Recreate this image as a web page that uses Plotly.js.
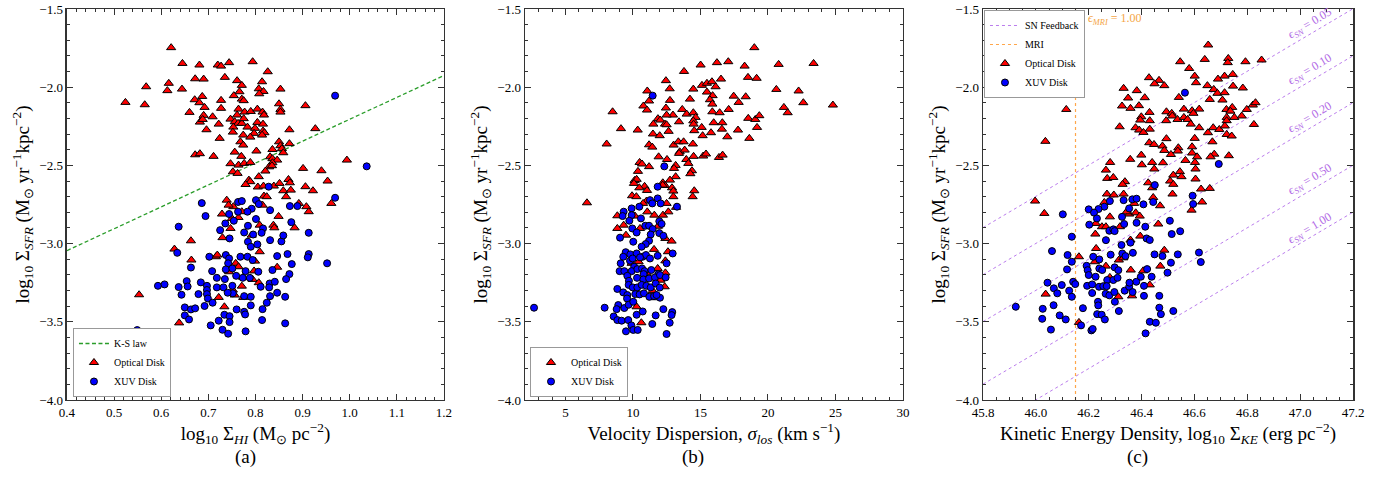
<!DOCTYPE html>
<html>
<head>
<meta charset="utf-8">
<script src="https://cdn.plot.ly/plotly-3.0.1.min.js"></script>
<style>html,body{margin:0;padding:0;background:#fff;}#chart{width:1390px;height:490px;}</style>
</head>
<body>
<div id="chart"></div>
<script>
// ---------------- DATA ----------------
// Panel (a): log10 Sigma_HI vs log10 Sigma_SFR
const a_opt_x = [0.621,0.645,0.681,0.720,0.727,0.744,0.794,0.826,0.568,0.616,0.613,0.644,0.672,0.690,0.735,0.761,0.771,0.766,0.754,0.771,0.775,0.814,0.807,0.817,0.808,0.853,0.524,0.565,0.671,0.687,0.681,0.692,0.727,0.727,0.660,0.690,0.709,0.682,0.688,0.722,0.696,0.724,0.764,0.761,0.747,0.756,0.763,0.771,0.775,0.777,0.790,0.804,0.815,0.818,0.804,0.816,0.783,0.753,0.752,0.799,0.797,0.774,0.789,0.816,0.819,0.814,0.850,0.853,0.853,0.906,0.872,0.927,0.768,0.774,0.802,0.756,0.770,0.850,0.853,0.856,0.859,0.872,0.836,0.672,0.682,0.711,0.831,0.836,0.846,0.836,0.829,0.835,0.747,0.764,0.776,0.789,0.752,0.762,0.821,0.901,0.940,0.994,0.807,0.786,0.789,0.779,0.870,0.873,0.953,0.805,0.817,0.839,0.851,0.859,0.875,0.906,0.922,0.739,0.753,0.818,0.824,0.865,0.908,0.961,0.743,0.815,0.892,0.913,0.729,0.750,0.764,0.771,0.809,0.838,0.840,0.849,0.883,0.747,0.730,0.792,0.663,0.628,0.809,0.664,0.716,0.719,0.758,0.764,0.799,0.744,0.797,0.846,0.774,0.794,0.807,0.722,0.756,0.771,0.774,0.553,0.734,0.638,0.752];
const a_opt_y = [-1.747,-1.848,-1.858,-1.858,-1.865,-1.843,-1.837,-1.901,-1.997,-1.975,-2.022,-2.012,-1.946,-1.948,-1.937,-1.958,-1.988,-2.029,-2.054,-2.076,-2.086,-1.965,-2.010,-2.027,-2.042,-2.012,-2.097,-2.112,-2.080,-2.059,-2.099,-2.129,-2.084,-2.135,-2.161,-2.180,-2.189,-2.223,-2.206,-2.236,-2.272,-2.327,-2.140,-2.178,-2.204,-2.221,-2.231,-2.231,-2.201,-2.159,-2.155,-2.140,-2.159,-2.178,-2.225,-2.236,-2.255,-2.255,-2.287,-2.263,-2.295,-2.306,-2.319,-2.280,-2.291,-2.306,-2.106,-2.142,-2.159,-2.118,-2.272,-2.265,-2.349,-2.370,-2.408,-2.415,-2.442,-2.349,-2.374,-2.393,-2.419,-2.361,-2.398,-2.432,-2.425,-2.442,-2.445,-2.457,-2.466,-2.483,-2.509,-2.502,-2.489,-2.498,-2.487,-2.481,-2.541,-2.551,-2.536,-2.519,-2.534,-2.466,-2.572,-2.594,-2.604,-2.622,-2.590,-2.611,-2.600,-2.638,-2.632,-2.632,-2.615,-2.662,-2.658,-2.636,-2.662,-2.722,-2.764,-2.696,-2.700,-2.700,-2.764,-2.743,-2.754,-2.754,-2.743,-2.796,-2.811,-2.839,-2.833,-2.796,-2.882,-2.882,-2.899,-2.826,-2.899,-2.903,-2.962,-2.946,-2.982,-3.035,-3.052,-3.105,-3.084,-3.073,-3.126,-3.148,-3.112,-3.180,-3.175,-3.151,-3.216,-3.229,-3.250,-3.344,-3.329,-3.272,-3.344,-3.327,-3.404,-3.507,-3.297];
const a_xuv_x = [0.969,1.036,0.828,0.686,0.763,0.771,0.801,0.807,0.792,0.831,0.873,0.889,0.969,0.694,0.744,0.763,0.783,0.754,0.784,0.801,0.816,0.813,0.637,0.736,0.725,0.745,0.776,0.795,0.784,0.790,0.804,0.831,0.855,0.859,0.876,0.913,0.634,0.702,0.737,0.744,0.742,0.768,0.783,0.794,0.846,0.868,0.913,0.911,0.952,0.877,0.663,0.708,0.737,0.751,0.779,0.806,0.836,0.872,0.718,0.735,0.759,0.773,0.788,0.811,0.830,0.841,0.865,0.593,0.607,0.637,0.654,0.656,0.684,0.697,0.697,0.718,0.732,0.751,0.752,0.741,0.829,0.846,0.643,0.679,0.697,0.699,0.709,0.776,0.790,0.831,0.863,0.824,0.692,0.650,0.663,0.672,0.650,0.659,0.760,0.790,0.815,0.776,0.778,0.734,0.745,0.722,0.745,0.814,0.863,0.705,0.730,0.742,0.779,0.549];
const a_xuv_y = [-2.054,-2.506,-2.636,-2.741,-2.734,-2.728,-2.722,-2.747,-2.777,-2.786,-2.760,-2.760,-2.707,-2.824,-2.811,-2.796,-2.796,-2.854,-2.886,-2.843,-2.903,-2.931,-2.892,-2.871,-2.914,-2.967,-2.929,-2.942,-2.988,-3.020,-3.005,-2.978,-2.986,-2.948,-2.863,-2.931,-3.059,-3.084,-3.073,-3.095,-3.126,-3.084,-3.084,-3.105,-3.080,-3.067,-3.067,-3.088,-3.126,-3.131,-3.153,-3.176,-3.165,-3.159,-3.176,-3.180,-3.169,-3.195,-3.219,-3.227,-3.206,-3.219,-3.219,-3.276,-3.255,-3.244,-3.227,-3.270,-3.261,-3.278,-3.240,-3.274,-3.248,-3.270,-3.297,-3.280,-3.280,-3.270,-3.318,-3.314,-3.280,-3.314,-3.327,-3.323,-3.323,-3.351,-3.378,-3.336,-3.340,-3.336,-3.340,-3.378,-3.399,-3.408,-3.421,-3.414,-3.459,-3.485,-3.421,-3.395,-3.419,-3.436,-3.453,-3.455,-3.464,-3.493,-3.502,-3.489,-3.510,-3.523,-3.551,-3.576,-3.561,-3.553];
const ks_x = [0.4, 1.2];
const ks_y = [-3.045, -1.925];

// Panel (b): velocity dispersion vs log10 Sigma_SFR
const b_opt_x = [18.99,15.01,16.22,17.06,18.27,20.79,23.38,13.78,12.44,18.52,19.16,16.52,15.11,15.48,15.85,16.12,14.47,12.72,11.06,15.48,15.90,15.70,15.88,17.46,18.35,17.83,20.62,22.27,22.62,24.81,21.18,21.46,14.22,12.74,11.19,10.77,11.04,8.49,12.44,13.65,13.98,14.47,14.64,15.88,16.42,17.09,18.54,19.06,19.36,19.19,12.96,12.49,13.41,11.85,12.02,11.51,12.37,12.49,14.47,14.49,15.98,16.62,15.09,14.54,15.16,15.78,16.59,16.99,17.78,18.62,12.64,11.48,11.98,9.11,10.35,8.05,11.19,11.43,13.01,13.36,13.75,14.44,13.46,13.83,13.41,11.90,12.52,13.95,14.10,14.49,15.20,15.41,16.37,16.64,10.49,10.67,11.19,13.16,13.04,10.37,14.37,14.25,13.16,12.74,10.12,10.27,10.07,10.86,10.47,11.04,12.21,12.37,12.20,12.89,12.99,14.54,14.42,9.93,10.25,11.00,12.49,12.99,6.59,10.75,8.84,9.31,8.84,9.48,10.15,10.52,11.06,11.58,12.22,12.62,11.85,12.40,12.86,11.56,12.59,12.40,10.42,9.90,11.83,12.40,11.01,12.02,12.35,11.46,11.43,10.27,10.62,13.19];
const b_opt_y = [-1.747,-1.858,-1.843,-1.837,-1.865,-1.854,-1.848,-1.899,-1.958,-1.937,-1.943,-1.948,-1.988,-1.975,-1.965,-1.997,-2.012,-2.010,-2.024,-2.031,-2.054,-2.080,-2.108,-2.057,-2.061,-2.097,-2.014,-2.024,-2.099,-2.114,-2.129,-2.163,-2.076,-2.084,-2.088,-2.120,-2.146,-2.157,-2.133,-2.142,-2.172,-2.163,-2.193,-2.157,-2.163,-2.142,-2.199,-2.206,-2.182,-2.257,-2.178,-2.178,-2.221,-2.201,-2.210,-2.236,-2.236,-2.240,-2.215,-2.236,-2.227,-2.227,-2.257,-2.278,-2.310,-2.291,-2.268,-2.317,-2.274,-2.327,-2.282,-2.299,-2.310,-2.265,-2.274,-2.363,-2.368,-2.383,-2.370,-2.349,-2.349,-2.363,-2.413,-2.402,-2.423,-2.445,-2.462,-2.462,-2.487,-2.442,-2.440,-2.427,-2.449,-2.434,-2.481,-2.491,-2.508,-2.500,-2.519,-2.538,-2.534,-2.553,-2.572,-2.594,-2.596,-2.589,-2.615,-2.634,-2.643,-2.660,-2.611,-2.628,-2.626,-2.643,-2.664,-2.662,-2.700,-2.694,-2.700,-2.728,-2.743,-2.700,-2.739,-2.743,-2.822,-2.882,-2.903,-2.946,-2.824,-2.903,-2.797,-2.818,-2.818,-2.797,-2.889,-2.967,-2.984,-3.037,-3.052,-3.110,-3.116,-3.126,-3.159,-3.187,-3.187,-3.234,-3.276,-3.301,-3.346,-3.404,-3.506,-2.768];
const b_xuv_x = [11.46,12.32,11.83,11.83,11.26,11.43,12.05,13.26,9.90,10.47,2.67,7.90,9.31,9.23,9.90,10.59,9.73,10.91,11.19,11.46,11.95,12.12,9.95,10.27,11.31,11.95,12.25,9.04,11.19,10.94,10.64,10.02,9.46,9.80,10.27,10.72,10.96,11.83,12.94,9.28,9.09,9.78,9.97,10.09,10.52,11.26,12.49,9.01,9.36,9.90,10.32,10.67,10.86,10.79,11.36,11.88,9.58,10.30,10.77,11.19,11.63,12.00,12.42,9.70,9.68,9.98,10.32,10.64,10.99,11.31,11.68,11.98,8.84,9.28,9.58,9.56,10.17,10.49,10.81,11.21,11.56,12.00,11.75,8.91,9.36,9.68,10.02,8.79,10.72,10.27,11.68,12.25,12.91,12.86,8.57,8.84,9.16,9.65,9.88,11.43,12.72,9.48,10.02,10.35,12.49];
const b_xuv_y = [-2.054,-2.506,-2.636,-2.711,-2.722,-2.743,-2.743,-2.764,-2.775,-2.764,-3.410,-3.410,-2.796,-2.824,-2.818,-2.839,-2.854,-2.886,-2.886,-2.907,-2.857,-2.874,-2.903,-2.929,-2.942,-2.933,-2.950,-2.962,-2.982,-3.003,-3.020,-2.988,-3.055,-3.069,-3.063,-3.084,-3.073,-3.078,-3.063,-3.084,-3.126,-3.110,-3.095,-3.148,-3.088,-3.095,-3.126,-3.176,-3.176,-3.176,-3.163,-3.159,-3.176,-3.195,-3.169,-3.195,-3.206,-3.219,-3.229,-3.223,-3.216,-3.201,-3.216,-3.238,-3.264,-3.280,-3.280,-3.264,-3.270,-3.280,-3.255,-3.281,-3.290,-3.312,-3.329,-3.351,-3.323,-3.325,-3.318,-3.340,-3.336,-3.346,-3.329,-3.393,-3.412,-3.391,-3.372,-3.419,-3.434,-3.455,-3.459,-3.419,-3.438,-3.457,-3.466,-3.489,-3.493,-3.489,-3.523,-3.514,-3.506,-3.561,-3.552,-3.552,-3.578];

// Panel (c): kinetic energy density vs log10 Sigma_SFR
const c_opt_x = [46.652,46.546,46.639,46.728,46.726,46.793,46.854,46.580,46.601,46.606,46.714,46.745,46.689,46.428,46.466,46.449,46.486,46.332,46.649,46.673,46.687,46.714,46.746,46.783,46.382,46.349,46.412,46.541,46.658,46.706,46.326,46.358,46.390,46.430,46.494,46.514,46.560,46.591,46.618,46.596,46.721,46.743,46.736,46.798,46.821,46.831,46.399,46.395,46.431,46.493,46.516,46.536,46.560,46.574,46.722,46.722,46.751,46.779,46.317,46.377,46.391,46.407,46.431,46.586,46.618,46.671,46.694,46.715,46.651,46.722,46.741,46.825,46.429,46.447,46.479,46.494,46.486,46.511,46.539,46.537,46.591,46.601,46.591,46.610,46.668,46.675,46.661,46.730,46.399,46.357,46.401,46.440,46.481,46.448,46.566,46.602,46.604,46.281,46.265,46.270,46.293,46.337,46.328,46.425,46.508,46.520,46.545,46.520,46.551,46.604,46.517,46.440,46.269,46.295,46.332,46.470,46.629,46.625,46.658,46.036,46.115,45.997,46.259,46.372,46.444,46.032,46.163,46.037,46.163,46.227,46.250,46.265,46.280,46.318,46.225,46.228,46.223,46.265,46.314,46.331,46.358,46.353,46.378,46.393,46.395,46.463,46.589,46.486,46.471,46.359,46.406,46.431,46.280,46.312,46.364,46.343];
const c_opt_y = [-1.730,-1.837,-1.822,-1.816,-1.843,-1.837,-1.826,-1.880,-1.929,-1.971,-1.929,-1.918,-1.948,-1.939,-1.956,-1.978,-1.990,-2.007,-1.990,-2.014,-2.039,-2.035,-1.993,-2.005,-2.022,-2.069,-2.067,-2.065,-2.078,-2.082,-2.120,-2.135,-2.118,-2.161,-2.157,-2.167,-2.140,-2.150,-2.140,-2.167,-2.142,-2.129,-2.153,-2.142,-2.114,-2.099,-2.189,-2.210,-2.214,-2.214,-2.184,-2.206,-2.193,-2.206,-2.193,-2.214,-2.193,-2.184,-2.253,-2.259,-2.274,-2.289,-2.268,-2.236,-2.259,-2.259,-2.270,-2.248,-2.291,-2.302,-2.312,-2.238,-2.355,-2.366,-2.376,-2.329,-2.404,-2.430,-2.387,-2.408,-2.381,-2.327,-2.421,-2.445,-2.349,-2.428,-2.445,-2.438,-2.434,-2.461,-2.496,-2.481,-2.483,-2.523,-2.468,-2.481,-2.523,-2.481,-2.530,-2.583,-2.577,-2.604,-2.621,-2.611,-2.600,-2.562,-2.540,-2.621,-2.572,-2.587,-2.683,-2.643,-2.683,-2.689,-2.683,-2.758,-2.734,-2.651,-2.647,-2.346,-2.142,-2.728,-2.737,-2.743,-2.705,-2.807,-3.084,-3.323,-3.504,-2.871,-2.892,-2.892,-2.829,-2.892,-2.939,-3.031,-3.116,-3.144,-3.105,-3.091,-2.977,-2.811,-2.803,-2.824,-2.952,-2.875,-2.786,-3.042,-3.144,-3.169,-3.174,-3.264,-3.216,-3.340,-3.334,-2.797];
const c_xuv_x = [46.564,46.692,46.450,46.593,46.595,46.280,46.332,46.365,46.381,46.407,46.444,46.259,46.200,46.237,46.353,46.102,46.136,46.061,46.120,46.136,46.118,46.044,46.068,46.098,46.081,46.126,46.136,46.141,46.149,45.924,46.026,46.067,46.024,46.090,46.113,46.057,46.171,46.178,46.210,46.215,46.220,46.202,46.231,46.265,46.278,46.293,46.298,46.326,46.334,46.381,46.414,46.419,46.431,46.358,46.324,46.367,46.283,46.217,46.240,46.327,46.339,46.192,46.196,46.200,46.226,46.240,46.251,46.298,46.312,46.270,46.293,46.309,46.194,46.213,46.239,46.255,46.268,46.213,46.264,46.278,46.297,46.336,46.353,46.366,46.380,46.354,46.299,46.314,46.235,46.236,46.232,46.249,46.261,46.397,46.409,46.409,46.438,46.421,46.449,46.479,46.467,46.467,46.473,46.431,46.454,46.415,46.498,46.511,46.520,46.507,46.514,46.546,46.537,46.617,46.624];
const c_xuv_y = [-2.035,-2.491,-2.626,-2.694,-2.747,-2.728,-2.722,-2.717,-2.713,-2.749,-2.734,-2.764,-2.781,-2.779,-2.775,-2.813,-2.956,-3.048,-3.073,-3.116,-3.165,-3.250,-3.286,-3.265,-3.318,-3.301,-3.340,-3.244,-3.259,-3.404,-3.417,-3.394,-3.481,-3.459,-3.485,-3.550,-3.523,-3.413,-3.555,-3.546,-2.802,-2.879,-2.839,-2.978,-2.918,-2.909,-2.920,-2.829,-2.875,-2.867,-2.892,-2.967,-2.977,-2.994,-3.009,-3.059,-3.071,-3.084,-3.101,-3.063,-3.080,-3.142,-3.170,-3.201,-3.212,-3.159,-3.169,-3.152,-3.170,-3.233,-3.233,-3.219,-3.270,-3.261,-3.276,-3.272,-3.272,-3.316,-3.321,-3.331,-3.310,-3.301,-3.276,-3.310,-3.244,-3.250,-3.372,-3.431,-3.372,-3.395,-3.451,-3.455,-3.485,-3.212,-3.270,-3.334,-3.212,-3.163,-3.069,-3.080,-3.334,-3.410,-3.451,-3.500,-3.506,-3.574,-3.186,-3.122,-3.431,-2.854,-2.939,-2.921,-3.069,-3.057,-3.118];
const sn_eps = ["0.05", "0.10", "0.20", "0.50", "1.00"];
const sn_x = [45.8, 47.2];
const sn_y = [[-2.898, -1.498], [-3.199, -1.799], [-3.499, -2.099], [-3.899, -2.499], [-4.199, -2.799]];
const mri_x = [46.15, 46.15];
const mri_y = [-4.0, -1.5];

// ---------------- STYLE ----------------
const FONT = "Liberation Serif";
const SN_COLOR = "#bb7ded";
const MRI_COLOR = "#ffa64a";
const triMarker = {symbol: "triangle-up", size: 8, color: "#ff0000", line: {color: "#000", width: 1}};
const cirMarker = {symbol: "circle", size: 7, color: "#0000ff", line: {color: "#000", width: 1}};

function pts(x, y, name, marker, xa, ya, legend) {
  return {type: "scatter", mode: "markers", x: x, y: y, name: name, marker: marker,
          xaxis: xa, yaxis: ya, legend: legend, hoverinfo: "x+y"};
}

const traces = [];
// panel a
traces.push({type: "scatter", mode: "lines", x: ks_x, y: ks_y, name: "K-S law",
             line: {color: "#2a9d2a", width: 1.3, dash: "4px,2.5px"}, xaxis: "x", yaxis: "y", legend: "legend"});
traces.push(pts(a_opt_x, a_opt_y, "Optical Disk", triMarker, "x", "y", "legend"));
traces.push(pts(a_xuv_x, a_xuv_y, "XUV Disk", cirMarker, "x", "y", "legend"));
// panel b
traces.push(pts(b_opt_x, b_opt_y, "Optical Disk", triMarker, "x2", "y2", "legend2"));
traces.push(pts(b_xuv_x, b_xuv_y, "XUV Disk", cirMarker, "x2", "y2", "legend2"));
// panel c
sn_y.forEach(function (yy, i) {
  traces.push({type: "scatter", mode: "lines", x: sn_x, y: yy, name: "SN Feedback",
               legendgroup: "sn", showlegend: i === 0,
               line: {color: SN_COLOR, width: 1, dash: "dot"}, xaxis: "x3", yaxis: "y3", legend: "legend3"});
});
traces.push({type: "scatter", mode: "lines", x: mri_x, y: mri_y, name: "MRI",
             line: {color: MRI_COLOR, width: 1.2, dash: "dot"}, xaxis: "x3", yaxis: "y3", legend: "legend3"});
traces.push(pts(c_opt_x, c_opt_y, "Optical Disk", triMarker, "x3", "y3", "legend3"));
traces.push(pts(c_xuv_x, c_xuv_y, "XUV Disk", cirMarker, "x3", "y3", "legend3"));

const YDOM = [0.1837, 0.9816];
const ytitle = "log<sub>10</sub> Σ<sub><i>SFR</i></sub> (M<sub>⊙</sub> yr<sup>−1</sup>kpc<sup>−2</sup>)";

function xAxis(dom, range, dtick, minorD, fmt, title, anchor) {
  return {domain: dom, range: range, dtick: dtick, tick0: range[0], tickformat: fmt,
          ticks: "inside", ticklen: 6, tickwidth: 1, tickcolor: "#333",
          minor: {dtick: minorD, ticks: "inside", ticklen: 3, tickwidth: 1, tickcolor: "#333"},
          showline: true, linecolor: "#333", linewidth: 1.5, mirror: "allticks",
          showgrid: false, zeroline: false, anchor: anchor,
          tickfont: {family: FONT, size: 13, color: "#000"},
          title: {text: title, font: {family: FONT, size: 19, color: "#000"}, standoff: 6}};
}
function yAxis(anchor) {
  return {domain: YDOM, range: [-4.0, -1.5], dtick: 0.5, tick0: -4.0, tickformat: ".1f",
          ticks: "inside", ticklen: 6, tickwidth: 1, tickcolor: "#333",
          minor: {dtick: 0.1, ticks: "inside", ticklen: 3, tickwidth: 1, tickcolor: "#333"},
          showline: true, linecolor: "#333", linewidth: 1.5, mirror: "allticks",
          showgrid: false, zeroline: false, anchor: anchor,
          tickfont: {family: FONT, size: 13, color: "#000"},
          title: {text: ytitle, font: {family: FONT, size: 19, color: "#000"}, standoff: 4}};
}
function legendCfg(x, y, yanchor) {
  return {x: x, y: y, xanchor: "left", yanchor: yanchor, bgcolor: "#fff",
          bordercolor: "#999", borderwidth: 1, font: {family: FONT, size: 10, color: "#000"},
          tracegroupgap: 0, itemwidth: 30};
}

const annotations = [
  {text: "(a)", x: 0.1676, y: 0.041, xref: "paper", yref: "paper", showarrow: false, font: {family: FONT, size: 19}},
  {text: "(b)", x: 0.4986, y: 0.041, xref: "paper", yref: "paper", showarrow: false, font: {family: FONT, size: 19}},
  {text: "(c)", x: 0.8273, y: 0.041, xref: "paper", yref: "paper", showarrow: false, font: {family: FONT, size: 19}},
  {text: "<i>ϵ</i><sub><i>MRI</i></sub> = 1.00", x: 46.19, y: -1.562, xref: "x3", yref: "y3",
   xanchor: "left", yanchor: "middle", showarrow: false, font: {family: FONT, size: 12, color: "#f5a545"}}
];
const snLabelY = [-1.596, -1.890, -2.197, -2.593, -2.907];
sn_eps.forEach(function (e, i) {
  annotations.push({text: "<i>ϵ</i><sub><i>SN</i></sub> = " + e, x: 47.036, y: snLabelY[i], xref: "x3", yref: "y3",
                    showarrow: false, textangle: -30.6, font: {family: FONT, size: 12, color: "#b26be6"}});
});

const layout = {
  width: 1390, height: 490, margin: {l: 0, r: 0, t: 0, b: 0},
  paper_bgcolor: "#fff", plot_bgcolor: "#fff",
  font: {family: FONT, size: 13, color: "#000"},
  xaxis: xAxis([0.0482, 0.3194], [0.4, 1.2], 0.1, 0.02, ".1f",
               "log<sub>10</sub> Σ<sub><i>HI</i></sub> (M<sub>⊙</sub> pc<sup>−2</sup>)", "y"),
  xaxis2: xAxis([0.3777, 0.6496], [2, 30], 5, 1, "d",
                "Velocity Dispersion, <i>σ<sub>los</sub></i> (km s<sup>−1</sup>)", "y2"),
  xaxis3: xAxis([0.7072, 0.9734], [45.8, 47.2], 0.2, 0.05, ".1f",
                "Kinetic Energy Density, log<sub>10</sub> Σ<sub><i>KE</i></sub> (erg pc<sup>−2</sup>)", "y3"),
  yaxis: yAxis("x"), yaxis2: yAxis("x2"), yaxis3: yAxis("x3"),
  legend: legendCfg(0.0525, 0.1898, "bottom"),
  legend2: legendCfg(0.3813, 0.1898, "bottom"),
  legend3: legendCfg(0.7079, 0.9796, "top"),
  annotations: annotations,
  showlegend: true
};
layout.xaxis2.tick0 = 0;

Plotly.newPlot("chart", traces, layout, {displayModeBar: false, staticPlot: true});
</script>
</body>
</html>
